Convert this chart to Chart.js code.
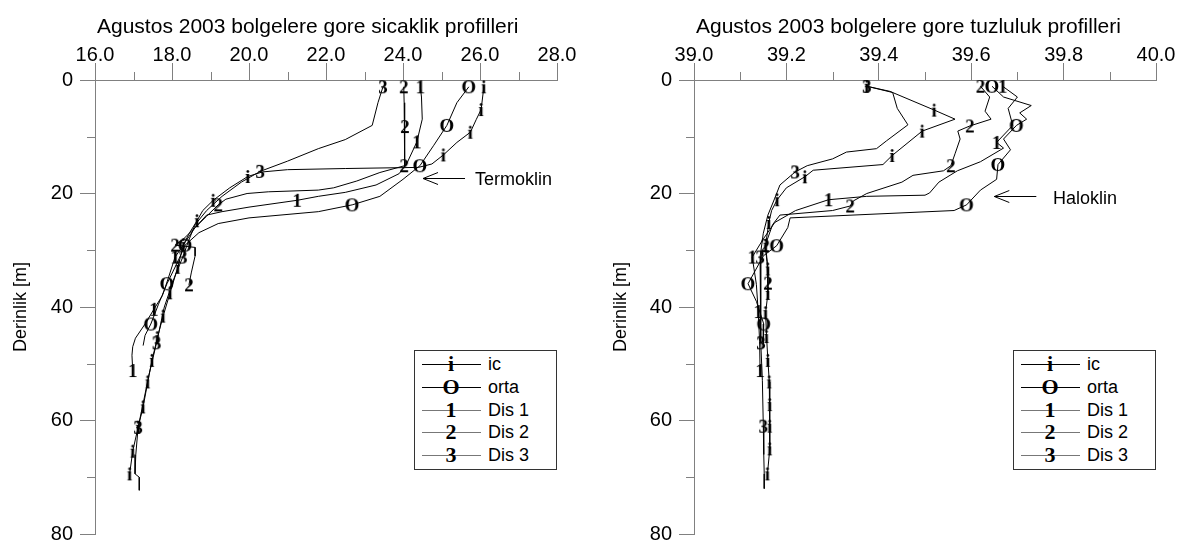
<!DOCTYPE html>
<html>
<head>
<meta charset="utf-8">
<script src="https://cdn.jsdelivr.net/npm/chart.js@4.4.1/dist/chart.umd.min.js"></script>
<style>
  html, body { margin: 0; padding: 0; background: #fff; }
  #wrap { position: relative; width: 1185px; height: 553px; overflow: hidden;
          font-family: "Liberation Sans", Arial, sans-serif; color: #000; }
  canvas { position: absolute; top: 0; }
  .title { position: absolute; top: 15px; font-size: 21px; line-height: 21px; white-space: nowrap; }
  .note { position: absolute; font-size: 18px; line-height: 18px; white-space: nowrap; }
  .legend { position: absolute; border: 1px solid #333; background: #fff; box-sizing: border-box; }
  .legend .row { position: absolute; left: 0; height: 22px; width: 100%; }
  .legend .ln { position: absolute; left: 7px; width: 59px; top: 11px; height: 1px; background: #000; }
  .legend .row.dis .ln { background: #777; }
  .legend .gl { position: absolute; left: 26px; width: 20px; top: 0; text-align: center;
                font: bold 22px "Liberation Serif", "DejaVu Serif", serif; line-height: 22px; }
  .legend .tx { position: absolute; left: 73px; top: 2px; font-size: 18px; line-height: 18px; }
</style>
</head>
<body>
<div id="wrap">
  <canvas id="tempChart" width="600" height="553" style="left:0"></canvas>
  <canvas id="saltChart" width="585" height="553" style="left:600px"></canvas>
  <div class="title" style="left:97px">Agustos 2003 bolgelere gore sicaklik profilleri</div>
  <div class="title" style="left:696px">Agustos 2003 bolgelere gore tuzluluk profilleri</div>
  <div class="note" style="left:475px; top:170px">Termoklin</div>
  <div class="note" style="left:1053px; top:189px">Haloklin</div>
  <div class="legend" id="legTemp" style="left:414px; top:350px; width:143px; height:120px"></div>
  <div class="legend" id="legSalt" style="left:1013px; top:350px; width:143px; height:120px"></div>
</div>
<script>
// series: ic, orta, Dis 1, Dis 2, Dis 3
const seriesNames = ['ic', 'orta', 'Dis 1', 'Dis 2', 'Dis 3'];
const seriesGlyphs = ['i', 'O', '1', '2', '3'];

// axis ticks
const tempTicks = [16, 18, 20, 22, 24, 26, 28];
const tempMinor = [17, 19, 21, 23, 25, 27];
const saltTicks = [39.0, 39.2, 39.4, 39.6, 39.8, 40.0];
const saltMinor = [39.1, 39.3, 39.5, 39.7, 39.9];
const depthTicks = [0, 20, 40, 60, 80];
const depthMinor = [10, 30, 50, 70];

// --- Sicaklik (temperature, degC) vs derinlik (m) ---
const tIcDepth = [1.2, 5.2, 7, 9.2, 11, 13.2, 14.8, 15.4, 15.6, 15.8, 16.2, 17, 19, 21.2, 23, 24.8, 27, 29, 33, 37.5, 41.6, 45.4, 49.4, 53.2, 57.6, 61.2, 65.4, 69.4];
const tIc = [26.1, 26.03, 25.9, 25.75, 25.4, 25.05, 24.75, 24.4, 22.5, 21.0, 20.35, 19.97, 19.5, 19.07, 18.8, 18.65, 18.45, 18.3, 18.15, 17.95, 17.77, 17.62, 17.48, 17.37, 17.25, 17.12, 16.98, 16.9];
const tIcMarks = [1.2, 5.2, 9.2, 13.2, 17, 21.2, 24.8, 29, 33, 37.5, 41.6, 45.4, 49.4, 53.2, 57.6, 61.2, 65.4, 69.4];

const tOrtaDepth = [1.2, 4, 8, 11.5, 15.1, 17.5, 20.5, 22, 23.2, 24.3, 25.3, 26.9, 29.1, 32, 35.9, 39.5, 43, 45, 46.8];
const tOrta = [25.71, 25.4, 25.14, 24.8, 24.44, 24.0, 23.4, 22.68, 21.8, 20.0, 19.2, 18.7, 18.34, 18.15, 17.87, 17.65, 17.45, 17.3, 17.25];
const tOrtaMarks = [1.2, 8, 15.1, 22, 29.1, 35.9, 43];

const tDis1Depth = [1.2, 3, 6.9, 10.9, 14.7, 16.5, 18.5, 19.8, 20.5, 21.2, 22.4, 23.2, 23.8, 26, 28.5, 31.2, 35, 38, 40.4, 43, 45.5, 47, 48.5, 51.2];
const tDis1 = [24.45, 24.48, 24.5, 24.36, 24.1, 23.9, 23.3, 22.5, 21.8, 21.25, 20.0, 19.3, 18.9, 18.6, 18.35, 18.08, 17.9, 17.75, 17.53, 17.3, 17.05, 16.98, 16.96, 16.98];
const tDis1Marks = [1.2, 10.9, 21.2, 31.2, 40.4, 51.2];

const tDis2Depth = [1.2, 4, 8.2, 12, 15.1, 16.3, 17.8, 19.0, 19.4, 19.7, 20.0, 21, 22, 24, 26, 28, 29.1, 29.5, 31, 34, 36.1];
const tDis2 = [24.02, 24.03, 24.05, 24.05, 24.03, 23.4, 22.8, 22.2, 21.8, 20.5, 19.95, 19.4, 19.2, 18.9, 18.6, 18.3, 18.08, 18.6, 18.6, 18.5, 18.44];
const tDis2Marks = [1.2, 8.2, 15.1, 22, 29.1, 36.1];

const tDis3Depth = [1.2, 4, 8, 10.5, 12.1, 14.3, 16.1, 18, 20.5, 23, 25.5, 28, 31.2, 35, 40, 46.3, 52, 57, 61.2, 66, 69.4, 70, 72.3];
const tDis3 = [23.48, 23.35, 23.2, 22.5, 21.8, 21.0, 20.29, 19.8, 19.3, 18.9, 18.6, 18.45, 18.28, 18.05, 17.8, 17.6, 17.4, 17.25, 17.12, 17.06, 17.04, 17.15, 17.15];
const tDis3Marks = [1.2, 16.1, 31.2, 46.3, 61.2];

// --- Tuzluluk (salinity, psu) vs derinlik (m) ---
const sIcDepth = [1.1, 2.0, 5.3, 6.9, 9.0, 13.3, 14.9, 15.9, 17.05, 19, 21.1, 23, 25.1, 29.1, 33.3, 37.6, 41, 45.2, 49.4, 53.2, 57.2, 61, 65, 69.4];
const sIc = [39.374, 39.424, 39.52, 39.565, 39.494, 39.429, 39.409, 39.258, 39.24, 39.2, 39.18, 39.168, 39.162, 39.155, 39.16, 39.16, 39.155, 39.157, 39.16, 39.163, 39.164, 39.164, 39.164, 39.159];
const sIcMarks = [1.1, 5.3, 9.0, 13.3, 17.05, 21.1, 25.1, 29.1, 33.3, 37.6, 41, 45.2, 49.4, 53.2, 57.2, 61, 65, 69.4];

const sOrtaDepth = [1.1, 3, 4.5, 5.8, 6.9, 8.0, 10.4, 12.3, 14.9, 17.5, 19.4, 22.0, 23.0, 24.3, 26.0, 29.2, 31, 35.9, 39, 43.0, 46.5];
const sOrta = [39.645, 39.67, 39.73, 39.705, 39.72, 39.698, 39.67, 39.685, 39.658, 39.655, 39.62, 39.59, 39.563, 39.208, 39.203, 39.179, 39.15, 39.117, 39.135, 39.151, 39.15];
const sOrtaMarks = [1.1, 8.0, 14.9, 22.0, 29.2, 35.9, 43.0];

const sDis1Depth = [1.1, 3, 5, 8, 11, 12, 14.4, 16, 18, 19.9, 20.3, 20.5, 21.1, 23, 25.1, 28, 31.2, 36, 40.8, 46, 51.2];
const sDis1 = [39.668, 39.7, 39.68, 39.69, 39.655, 39.67, 39.62, 39.57, 39.53, 39.51, 39.5, 39.374, 39.291, 39.22, 39.175, 39.15, 39.126, 39.135, 39.139, 39.142, 39.143];
const sDis1Marks = [1.1, 11, 21.1, 31.2, 40.8, 51.2];

const sDis2Depth = [1.1, 3, 5.5, 6.9, 8.1, 9, 10.4, 13, 15.1, 16, 16.8, 18, 20, 21.3, 22.2, 23, 23.8, 25.5, 29.2, 32, 35.8];
const sDis2 = [39.62, 39.64, 39.63, 39.643, 39.597, 39.571, 39.576, 39.565, 39.556, 39.54, 39.474, 39.45, 39.374, 39.345, 39.338, 39.3, 39.186, 39.17, 39.154, 39.158, 39.16];
const sDis2Marks = [1.1, 8.1, 15.1, 22.2, 29.2, 35.8];

const sDis3Depth = [1.1, 2.2, 5, 7.9, 10.7, 12.1, 12.7, 13.9, 15.1, 16.2, 18.5, 20.8, 23.8, 27, 31.2, 38, 46.3, 53, 61, 66, 69.4, 72];
const sDis3 = [39.374, 39.43, 39.44, 39.463, 39.417, 39.395, 39.33, 39.3, 39.245, 39.219, 39.186, 39.175, 39.16, 39.15, 39.143, 39.144, 39.145, 39.148, 39.15, 39.151, 39.152, 39.152];
const sDis3Marks = [1.1, 16.2, 31.2, 46.3, 61];

const axisColor = '#808080';
const sansFont = '"Liberation Sans", Arial, sans-serif';

// glyph used as point marker (serif bold character)
function glyph(ch, size) {
    const c = document.createElement('canvas');
    c.width = Math.ceil(size * 0.9);
    c.height = Math.ceil(size * 1.1);
    const g = c.getContext('2d');
    g.font = 'bold ' + size + 'px "Liberation Serif", "DejaVu Serif", serif';
    g.textAlign = 'center';
    g.textBaseline = 'alphabetic';
    g.fillStyle = '#000';
    g.fillText(ch, c.width / 2, c.height / 2 + size * 0.33);
    return c;
}
const markerGlyphs = seriesGlyphs.map(ch => glyph(ch, 19));

function makeDataset(i, depths, values, marks) {
    return {
        label: seriesNames[i],
        data: depths.map((d, k) => ({ x: values[k], y: d })),
        showLine: true,
        borderColor: '#000',
        borderWidth: 1,
        tension: 0,
        pointStyle: markerGlyphs[i],
        pointRadius: ctx => (marks.includes(depths[ctx.dataIndex]) ? 8 : 0),
        pointHoverRadius: 0
    };
}

// minor ticks drawn with the chart's own scales
const minorTicks = {
    id: 'minorTicks',
    afterDraw(chart, args, opts) {
        const { ctx, scales: { x, y } } = chart;
        ctx.save();
        ctx.strokeStyle = axisColor;
        ctx.lineWidth = 1;
        ctx.beginPath();
        opts.xMinor.forEach(v => {
            const px = Math.round(x.getPixelForValue(v)) + 0.5;
            ctx.moveTo(px, x.bottom);
            ctx.lineTo(px, x.bottom - 8);
        });
        opts.yMinor.forEach(v => {
            const py = Math.round(y.getPixelForValue(v)) + 0.5;
            ctx.moveTo(y.right, py);
            ctx.lineTo(y.right - 8, py);
        });
        ctx.stroke();
        ctx.restore();
    }
};

// "<-- Termoklin" style arrow, tip given in data units
const noteArrow = {
    id: 'noteArrow',
    afterDraw(chart, args, opts) {
        const { ctx, scales: { x, y } } = chart;
        const tx = x.getPixelForValue(opts.x);
        const ty = Math.round(y.getPixelForValue(opts.y)) + 0.5;
        ctx.save();
        ctx.strokeStyle = '#000';
        ctx.lineWidth = 1;
        ctx.beginPath();
        ctx.moveTo(tx, ty);
        ctx.lineTo(tx + 42, ty);
        ctx.moveTo(tx + 15, ty - 6);
        ctx.lineTo(tx, ty);
        ctx.lineTo(tx + 15, ty + 6);
        ctx.stroke();
        ctx.restore();
    }
};

function makeChart(id, datasets, xMin, xMax, xTicks, xMinor, yWidth, padRight, arrow) {
    return new Chart(document.getElementById(id), {
        type: 'scatter',
        data: { datasets },
        options: {
            responsive: false,
            animation: false,
            events: [],
            layout: { padding: { left: 0, right: padRight, top: 0, bottom: 12 } },
            plugins: {
                legend: { display: false },
                tooltip: { enabled: false },
                minorTicks: { xMinor: xMinor, yMinor: depthMinor },
                noteArrow: arrow
            },
            scales: {
                x: {
                    type: 'linear',
                    position: 'top',
                    min: xMin,
                    max: xMax,
                    afterBuildTicks: s => { s.ticks = xTicks.map(v => ({ value: v })); },
                    afterFit: s => { s.height = 80; },
                    grid: { drawOnChartArea: false, tickLength: 17, color: axisColor, tickColor: axisColor },
                    border: { color: axisColor, width: 1 },
                    ticks: {
                        color: '#000',
                        font: { family: sansFont, size: 20 },
                        padding: -4,
                        autoSkip: false,
                        maxRotation: 0,
                        callback: v => Number(v).toFixed(1)
                    }
                },
                y: {
                    type: 'linear',
                    reverse: true,
                    min: 0,
                    max: 80,
                    afterBuildTicks: s => { s.ticks = depthTicks.map(v => ({ value: v })); },
                    afterFit: s => { s.width = yWidth; },
                    grid: { drawOnChartArea: false, tickLength: 15, color: axisColor, tickColor: axisColor },
                    border: { color: axisColor, width: 1 },
                    ticks: {
                        color: '#000',
                        font: { family: sansFont, size: 20 },
                        padding: 7,
                        autoSkip: false
                    },
                    title: {
                        display: true,
                        text: 'Derinlik [m]',
                        color: '#000',
                        font: { family: sansFont, size: 18 },
                        padding: { top: 10, bottom: 0 }
                    }
                }
            }
        },
        plugins: [minorTicks, noteArrow]
    });
}

makeChart('tempChart', [
    makeDataset(0, tIcDepth, tIc, tIcMarks),
    makeDataset(1, tOrtaDepth, tOrta, tOrtaMarks),
    makeDataset(2, tDis1Depth, tDis1, tDis1Marks),
    makeDataset(3, tDis2Depth, tDis2, tDis2Marks),
    makeDataset(4, tDis3Depth, tDis3, tDis3Marks)
], 16, 28, tempTicks, tempMinor, 95, 43, { x: 24.52, y: 17.2 });

makeChart('saltChart', [
    makeDataset(0, sIcDepth, sIc, sIcMarks),
    makeDataset(1, sOrtaDepth, sOrta, sOrtaMarks),
    makeDataset(2, sDis1Depth, sDis1, sDis1Marks),
    makeDataset(3, sDis2Depth, sDis2, sDis2Marks),
    makeDataset(4, sDis3Depth, sDis3, sDis3Marks)
], 39, 40, saltTicks, saltMinor, 94, 29, { x: 39.65, y: 20.5 });

// legend boxes
['legTemp', 'legSalt'].forEach(id => {
    const box = document.getElementById(id);
    seriesNames.forEach((name, i) => {
        const row = document.createElement('div');
        row.className = i > 1 ? 'row dis' : 'row';
        row.style.top = (2 + i * 22.75) + 'px';
        row.innerHTML = '<div class="ln"></div><div class="gl">' + seriesGlyphs[i] +
            '</div><div class="tx">' + name + '</div>';
        box.appendChild(row);
    });
});
</script>
</body>
</html>
